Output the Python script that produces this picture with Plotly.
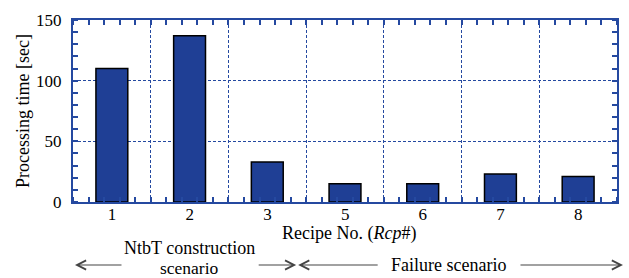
import numpy as np
import plotly.graph_objects as go

# ---- data ----
recipes = ["1", "2", "3", "5", "6", "7", "8"]
times = [110, 137, 33, 15, 15, 23, 21]
y_tick_vals = [0, 50, 100, 150]

# ---- style ----
BLUE = "#2549a0"
BAR = "#1f3f95"
FONT = "Times New Roman, Liberation Serif, serif"
W, H = 629, 278
ML, MR, MT, MB = 73, 10, 20, 76
PW, PH = W - ML - MR, H - MT - MB

def px_x(px):
    return (px - ML) / PW

def px_y(py):
    return (H - MB - py) / PH

pos = list(range(len(recipes)))
bounds = [p - 0.5 for p in pos] + [pos[-1] + 0.5]
bound_text = recipes + [""]
minor_x = [float(v) for v in np.arange(-0.5, pos[-1] + 0.5 + 1e-9, 0.2)]
cat_px = PW / len(recipes)

fig = go.Figure()
fig.add_trace(go.Bar(
    x=pos, y=times, width=0.41,
    marker=dict(color=BAR, line=dict(color="black", width=1.5)),
    showlegend=False, hoverinfo="skip",
))

fig.update_layout(
    width=W, height=H,
    margin=dict(l=ML, r=MR, t=MT, b=MB, pad=0),
    paper_bgcolor="white", plot_bgcolor="white",
    font=dict(family=FONT, size=17, color="black"),
    xaxis=dict(
        range=[-0.5, pos[-1] + 0.5], tickmode="array", tickvals=bounds,
        ticktext=bound_text, ticklabelshift=int(round(cat_px / 2)),
        ticklabelstandoff=-4,
        ticks="", showgrid=True, gridcolor=BLUE,
        griddash="3px,2px", gridwidth=1, showline=True, linecolor=BLUE,
        linewidth=2, mirror="allticks", zeroline=False,
        tickfont=dict(size=17, family=FONT, color="black"),
        minor=dict(tickvals=minor_x, ticks="inside", ticklen=5,
                   tickcolor=BLUE, tickwidth=1.5, showgrid=False),
    ),
    yaxis=dict(
        range=[0, 150], tickmode="array", tickvals=y_tick_vals, ticks="",
        showgrid=True, gridcolor=BLUE, griddash="3px,2px", gridwidth=1,
        showline=True, linecolor=BLUE, linewidth=2, mirror="allticks",
        zeroline=False, tickfont=dict(size=17, family=FONT, color="black"),
        ticklabelstandoff=6,
        minor=dict(dtick=10, tick0=0, ticks="inside", ticklen=5,
                   tickcolor=BLUE, tickwidth=1.5, showgrid=False),
        title=dict(text="Processing time [sec]",
                   font=dict(size=18, family=FONT, color="black"), standoff=2),
    ),
)

# x-axis title placed as annotation to sit close to the tick labels
fig.add_annotation(
    x=px_x(350), y=px_y(233), xref="paper", yref="paper",
    text="Recipe No. (<i>Rcp</i>#)", showarrow=False,
    xanchor="center", yanchor="middle",
    font=dict(size=18, family=FONT, color="black"),
)

ARROW_Y = 265
arrows = [(75, 123), (297, 258), (299, 380), (625, 521)]
for head, tail in arrows:
    fig.add_annotation(
        x=px_x(head), y=px_y(ARROW_Y), xref="paper", yref="paper",
        ax=tail - head, ay=0, axref="pixel", ayref="pixel",
        text="", showarrow=True, arrowhead=5, arrowsize=1.5,
        arrowwidth=1.2, arrowcolor="#444444", standoff=0,
    )

labels = [("NtbT construction", 190, 248, 18), ("scenario", 190, 268, 17.5),
          ("Failure scenario", 450, 265, 18)]
for txt, cx, cy, fs in labels:
    fig.add_annotation(
        x=px_x(cx), y=px_y(cy), xref="paper", yref="paper",
        text=txt, showarrow=False, xanchor="center", yanchor="middle",
        font=dict(size=fs, family=FONT, color="black"),
    )

fig.write_html(
    "out.html",
    config={"displayModeBar": False},
    post_script="document.body.style.margin='0';document.body.style.overflow='hidden';",
)
